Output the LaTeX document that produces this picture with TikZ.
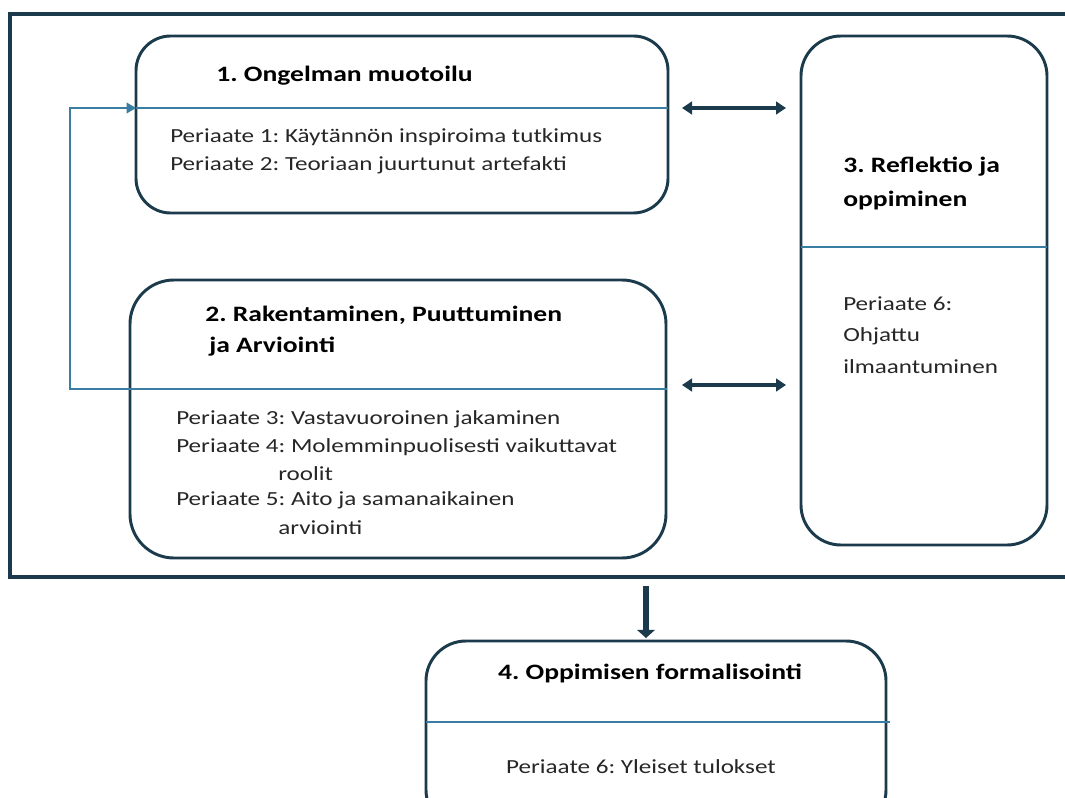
\documentclass[tikz,border=0pt]{standalone}
\usepackage{fontspec}
\setmainfont{Carlito}[FakeStretch=1.255]
\usetikzlibrary{arrows.meta,fit}
\definecolor{navy}{HTML}{1B3A4B}
\definecolor{rulecol}{HTML}{3A7DA3}
\frenchspacing
\begin{document}
\begin{tikzpicture}[x=0.75pt,y=-0.75pt,
  stagebox/.style={draw=navy,line width=2.2pt,rounded corners=#1,inner sep=0pt},
  frame/.style={draw=navy,line width=2.3pt},
  divider/.style={draw=rulecol,line width=1pt},
  title/.style={anchor=west,font=\fontsize{16.5}{20}\selectfont\bfseries,text=black,inner sep=0pt},
  body/.style={anchor=west,font=\fontsize{15}{18}\selectfont,text=black!85,inner sep=0pt},
  link/.style={draw=navy,line width=3.5pt,{Triangle[length=7.5pt,width=9.5pt]}-{Triangle[length=7.5pt,width=9.5pt]}},
  down/.style={draw=navy,line width=3.8pt,-{Triangle[length=6pt,width=13pt]}}]
\useasboundingbox (0,0) rectangle (1065,798);
\clip (0,0) rectangle (1065,798);

% outer frame around stages 1-3
\node[frame,inner sep=0pt,fit={(10,14) (1090,577)}] (outer) {};

% stage boxes
\node[stagebox=26pt,fit={(136,36) (668,213)}] (box1) {};
\node[stagebox=33pt,fit={(130,280) (666,558)}] (box2) {};
\node[stagebox=30pt,fit={(801,36) (1047,545)}] (box3) {};
\node[stagebox=30pt,fit={(426,641) (886,830)}] (box4) {};

% dividers
\coordinate (d1w) at (136,108);
\coordinate (d1e) at (668,108);
\coordinate (d2e) at (667,389);
\coordinate (d2w) at (70,389);
\coordinate (d3w) at (801,247);
\coordinate (d3e) at (1047,247);
\coordinate (d4w) at (426,722);
\coordinate (d4e) at (890,722);
\draw[divider] (d1w) -- (d1e);
\draw[divider] (d3w) -- (d3e);
\draw[divider] (d4w) -- (d4e);
% feedback from stage 2 back to stage 1
\draw[divider,-{Triangle[length=7pt,width=8pt]}] (d2e) -- (d2w) |- (d1w);

% stage 1
\node[title] (t1) at (216,76) {1. Ongelman muotoilu};
\node[body] (p1) at (170,137) {Periaate 1: Käytännön inspiroima tutkimus};
\node[body] (p2) at (170,165) {Periaate 2: Teoriaan juurtunut artefakti};

% stage 2
\node[title] (t2a) at (205,315) {2. Rakentaminen, Puuttuminen};
\node[title] (t2b) at (209,347) {ja Arviointi};
\node[body] (p3) at (176,419) {Periaate 3: Vastavuoroinen jakaminen};
\node[body] (p4) at (176,447) {Periaate 4: Molemminpuolisesti vaikuttavat};
\node[body] (p4b) at (278,474) {roolit};
\node[body] (p5) at (176,500) {Periaate 5: Aito ja samanaikainen};
\node[body] (p5b) at (278,528) {arviointi};

% stage 3
\node[title] (t3a) at (843,167) {3. Reflektio ja};
\node[title] (t3b) at (843,201) {oppiminen};
\node[body] (p6) at (843,304) {Periaate 6:};
\node[body] (p6b) at (843,336) {Ohjattu};
\node[body] (p6c) at (843,367) {ilmaantuminen};

% stage 4
\node[title,anchor=center] (t4) at (650,673) {4. Oppimisen formalisointi};
\node[body,anchor=center] (p7) at (641,767) {Periaate 6: Yleiset tulokset};

% links between stages
\coordinate (a1l) at (682,108);
\coordinate (a1r) at (786,108);
\coordinate (a2l) at (682,385);
\coordinate (a2r) at (786,385);
\draw[link] (a1l) -- (a1r);
\draw[link] (a2l) -- (a2r);
\coordinate (dn1) at (646,586);
\coordinate (dn2) at (646,638);
\draw[down] (dn1) -- (dn2);
\end{tikzpicture}
\end{document}
